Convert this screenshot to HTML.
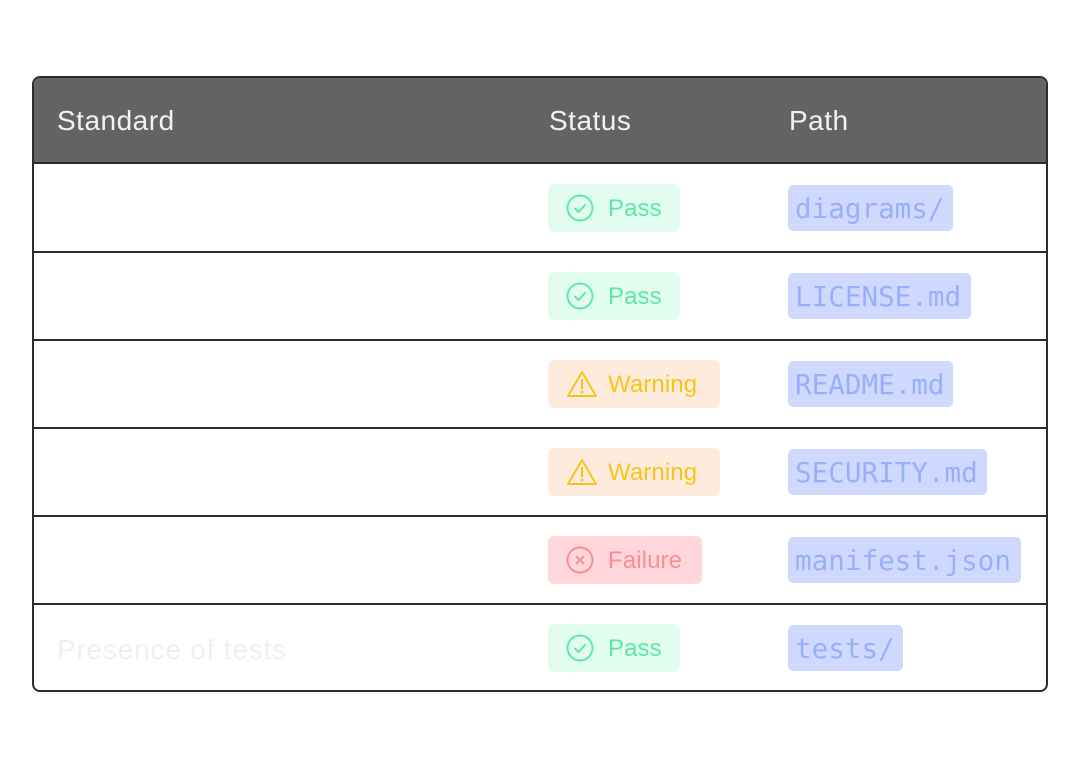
<!DOCTYPE html>
<html><head><meta charset="utf-8"><style>
*{margin:0;padding:0;box-sizing:border-box}
body{width:1080px;height:768px;background:#fff;position:relative;font-family:"Liberation Sans",sans-serif;overflow:hidden}
.tbl{position:absolute;left:32px;top:76px;width:1016px;height:616px;border:2px solid #2b2d31;border-radius:8px;overflow:hidden}
.hd{position:absolute;left:0;top:0;width:100%;height:86px;background:#636365;border-bottom:2px solid #2b2d31}
.ht{position:absolute;top:27px;color:#f2f2f2;font-size:28px;letter-spacing:0.5px}
.line{position:absolute;left:0;width:100%;height:2px;background:#2b2d31}
.b{position:absolute;height:48px;border-radius:6px;font-size:24px;line-height:50px;padding-left:60px;letter-spacing:0.1px}
.b svg{position:absolute;left:18px;top:10px}
.pass{background:#e2fdf0;color:#5be8a2;width:132px}
.warn{background:#fdecdb;color:#f9c31c;width:172px}
.fail{background:#fed6dc;color:#fb8e8e;width:154px}
.c{position:absolute;height:46px;border-radius:5px;background:#cfd9fe;color:#9aaffc;font-family:"DejaVu Sans Mono","Liberation Mono",monospace;font-size:27.6px;line-height:48px;padding-left:7px;white-space:nowrap}
.std{position:absolute;left:23px;color:#efefef;font-size:28px;letter-spacing:0.8px}
</style></head><body>
<div class="tbl">
<div class="hd">
<div class="ht" style="left:23px">Standard</div>
<div class="ht" style="left:515px">Status</div>
<div class="ht" style="left:755px">Path</div>
</div>
<div class="line" style="top:173px"></div>
<div class="line" style="top:261px"></div>
<div class="line" style="top:349px"></div>
<div class="line" style="top:437px"></div>
<div class="line" style="top:525px"></div>
<div class="std" style="top:556px">Presence of tests</div>
</div>

<div class="b pass" style="left:548px;top:184px"><svg width="28" height="28" viewBox="0 0 28 28"><circle cx="14" cy="14" r="12.5" fill="none" stroke="#5be8a2" stroke-width="2"/><path d="M9 14.5l3.5 3.5 6.5-7" fill="none" stroke="#5be8a2" stroke-width="2" stroke-linecap="round" stroke-linejoin="round"/></svg>Pass</div>
<div class="b pass" style="left:548px;top:272px"><svg width="28" height="28" viewBox="0 0 28 28"><circle cx="14" cy="14" r="12.5" fill="none" stroke="#5be8a2" stroke-width="2"/><path d="M9 14.5l3.5 3.5 6.5-7" fill="none" stroke="#5be8a2" stroke-width="2" stroke-linecap="round" stroke-linejoin="round"/></svg>Pass</div>
<div class="b warn" style="left:548px;top:360px"><svg width="32" height="28" viewBox="0 0 32 28"><path d="M16 2L30 26H2Z" fill="none" stroke="#f9c31c" stroke-width="2" stroke-linejoin="round"/><path d="M16 10v8" stroke="#f9c31c" stroke-width="2.2" stroke-linecap="round"/><circle cx="16" cy="22" r="1.4" fill="#f9c31c"/></svg>Warning</div>
<div class="b warn" style="left:548px;top:448px"><svg width="32" height="28" viewBox="0 0 32 28"><path d="M16 2L30 26H2Z" fill="none" stroke="#f9c31c" stroke-width="2" stroke-linejoin="round"/><path d="M16 10v8" stroke="#f9c31c" stroke-width="2.2" stroke-linecap="round"/><circle cx="16" cy="22" r="1.4" fill="#f9c31c"/></svg>Warning</div>
<div class="b fail" style="left:548px;top:536px"><svg width="28" height="28" viewBox="0 0 28 28"><circle cx="14" cy="14" r="12.5" fill="none" stroke="#fb8e8e" stroke-width="2"/><path d="M10.5 10.5l7 7M17.5 10.5l-7 7" stroke="#fb8e8e" stroke-width="2" stroke-linecap="round"/></svg>Failure</div>
<div class="b pass" style="left:548px;top:624px"><svg width="28" height="28" viewBox="0 0 28 28"><circle cx="14" cy="14" r="12.5" fill="none" stroke="#5be8a2" stroke-width="2"/><path d="M9 14.5l3.5 3.5 6.5-7" fill="none" stroke="#5be8a2" stroke-width="2" stroke-linecap="round" stroke-linejoin="round"/></svg>Pass</div>

<div class="c" style="left:788px;top:185px;width:165px">diagrams/</div>
<div class="c" style="left:788px;top:273px;width:183px">LICENSE.md</div>
<div class="c" style="left:788px;top:361px;width:165px">README.md</div>
<div class="c" style="left:788px;top:449px;width:199px">SECURITY.md</div>
<div class="c" style="left:788px;top:537px;width:233px">manifest.json</div>
<div class="c" style="left:788px;top:625px;width:115px">tests/</div>
</body></html>
